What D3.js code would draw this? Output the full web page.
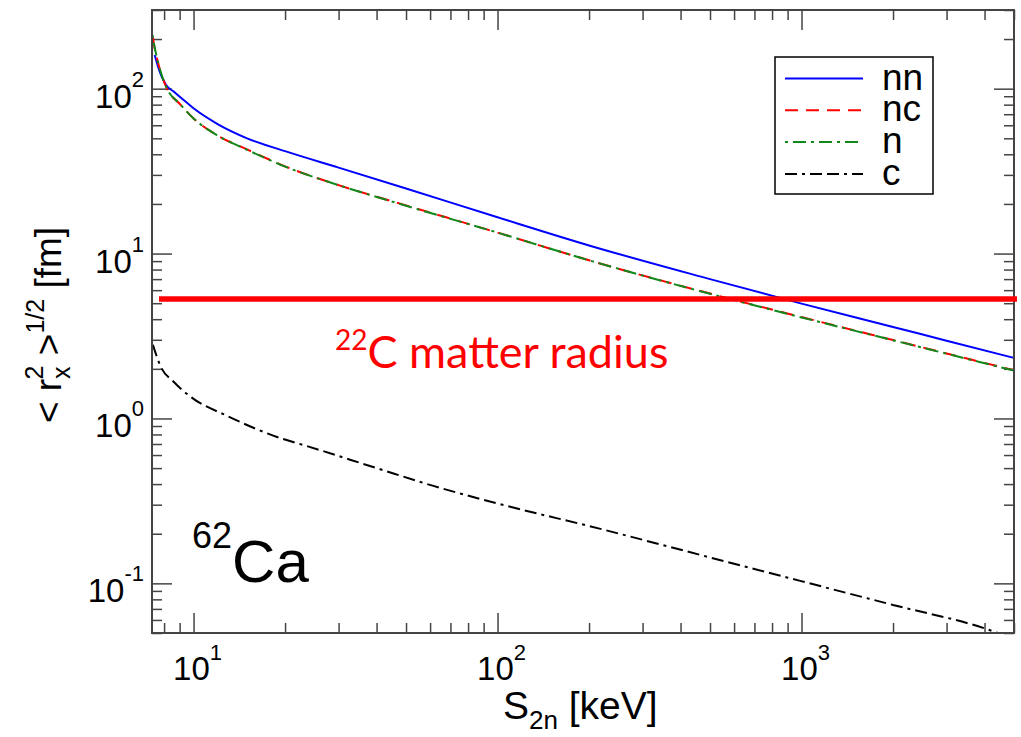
<!DOCTYPE html>
<html>
<head>
<meta charset="utf-8">
<script src="https://cdn.jsdelivr.net/npm/d3@7"></script>
<style>
body { margin: 0; background: #fff; }
text { font-family: "Liberation Sans", Arial, sans-serif; }
</style>
</head>
<body>
<svg id="chart" width="1021" height="737"></svg>
<script>
// values (S2n in keV, rms radius in fm)
var sNN = [7.45, 7.7, 8.1, 8.6, 9.3, 10, 12, 15, 20, 30, 50, 100, 200, 500, 1000, 2000, 3000, 5000];
var rNN = [160, 130, 106, 96, 85, 76, 61, 50, 41.8, 33.2, 24.8, 16.6, 11.2, 7.0, 4.97, 3.59, 2.96, 2.33];

var sNC = [7.35, 7.4, 7.6, 8.0, 8.2, 9, 10, 12, 15, 20, 30, 50, 100, 200, 500, 1000, 2000, 3000, 5000];
var rNC = [205, 188, 150, 110, 99, 81, 66, 52, 42.8, 33.8, 26, 19.6, 13.4, 9.1, 5.72, 4.12, 2.99, 2.48, 1.96];

var sN = [7.33, 7.4, 7.6, 8.0, 8.2, 9, 10, 12, 15, 20, 30, 50, 100, 200, 500, 1000, 2000, 3000, 5000];
var rN = [212, 190, 151, 110, 99, 81, 66, 52, 42.6, 33.7, 26, 19.5, 13.4, 9.1, 5.7, 4.1, 2.98, 2.47, 1.95];

var sC = [7.35, 7.8, 8.6, 9.75, 13, 19.3, 23.6, 40, 61.5, 100, 218, 500, 990, 2000, 4070, 4500];
var rC = [2.8, 2.06, 1.67, 1.36, 1.03, 0.76, 0.68, 0.5, 0.39, 0.305, 0.214, 0.1436, 0.1035, 0.074, 0.0528, 0.0495];

var seriesNames = ["nn", "nc", "n", "c"];
var matterRadius = 5.3;   // 22C matter radius, fm

var xMajor = [10, 100, 1000];
var xMajorExp = ["1", "2", "3"];
var yMajor = [0.1, 1, 10, 100];
var yMajorExp = ["-1", "0", "1", "2"];

// layout (plot frame)
var frameL = 152, frameR = 1014, frameT = 10, frameB = 633;
var svg = d3.select("#chart");

var x = d3.scaleLog().domain([7.3, 5000]).range([frameL, frameR]);
var y = d3.scaleLog().domain([0.05, 300]).range([frameB, frameT]);

// minor ticks: every 1..9 * decade within domain
function minors(scale, majors) {
    var d = scale.domain(), out = [];
    for (var e = -3; e <= 4; e++) {
        for (var m = 1; m < 10; m++) {
            var v = +(m * Math.pow(10, e)).toPrecision(6);
            if (v >= d[0] && v <= d[1] && majors.indexOf(v) < 0) out.push(v);
        }
    }
    return out;
}
var xMinor = minors(x, xMajor);
var yMinor = minors(y, yMajor);

var axisColor = "#444";

function tickAxis(axis, values, size, transform) {
    var g = svg.append("g")
        .attr("transform", transform)
        .call(axis.tickValues(values).tickSize(size).tickSizeOuter(0).tickFormat(""));
    g.select(".domain").remove();
    g.selectAll("line").attr("stroke", axisColor).attr("stroke-width", 1.5);
}
// ticks inside the frame, all four sides
tickAxis(d3.axisBottom(x), xMinor, -10, "translate(0," + frameB + ")");
tickAxis(d3.axisBottom(x), xMajor, -20, "translate(0," + frameB + ")");
tickAxis(d3.axisTop(x), xMinor, -10, "translate(0," + frameT + ")");
tickAxis(d3.axisTop(x), xMajor, -20, "translate(0," + frameT + ")");
tickAxis(d3.axisLeft(y), yMinor, -10, "translate(" + frameL + ",0)");
tickAxis(d3.axisLeft(y), yMajor, -20, "translate(" + frameL + ",0)");
tickAxis(d3.axisRight(y), yMinor, -10, "translate(" + frameR + ",0)");
tickAxis(d3.axisRight(y), yMajor, -20, "translate(" + frameR + ",0)");

// tick labels as 10 with superscript
xMajor.forEach(function(v, i) {
    var t = svg.append("text")
        .attr("x", x(v) + 4)
        .attr("y", 680)
        .attr("text-anchor", "middle")
        .attr("font-size", 33)
        .attr("fill", "#000");
    t.append("tspan").text("10");
    t.append("tspan").attr("font-size", 22).attr("dy", -20).text(xMajorExp[i]);
});
yMajor.forEach(function(v, i) {
    var t = svg.append("text")
        .attr("x", 144)
        .attr("y", y(v) + 19)
        .attr("text-anchor", "end")
        .attr("font-size", 33)
        .attr("fill", "#000");
    t.append("tspan").text("10");
    t.append("tspan").attr("font-size", 22).attr("dy", -21).text(yMajorExp[i]);
});

// axis titles
var xt = svg.append("text")
    .attr("x", 503)
    .attr("y", 719)
    .attr("font-size", 39)
    .attr("fill", "#000");
xt.append("tspan").text("S");
xt.append("tspan").attr("font-size", 26).attr("dy", 10).text("2n");
xt.append("tspan").attr("dy", -10).text(" [keV]");

var yt = svg.append("text")
    .attr("transform", "translate(61,325) rotate(-90)")
    .attr("text-anchor", "middle")
    .attr("font-size", 37)
    .attr("fill", "#000");
yt.append("tspan").text("< r");
yt.append("tspan").attr("font-size", 25).attr("dy", 9).text("x");
yt.append("tspan").attr("font-size", 25).attr("dx", -13).attr("dy", -27).text("2");
yt.append("tspan").attr("dy", 18).text(" >");
yt.append("tspan").attr("font-size", 25).attr("dy", -17).text("1/2");
yt.append("tspan").attr("dy", 17).text(" [fm]");

// curves
svg.append("clipPath").attr("id", "plotClip")
    .append("rect")
    .attr("x", frameL).attr("y", frameT)
    .attr("width", frameR - frameL).attr("height", frameB - frameT);

var series = [
    { name: seriesNames[0], s: sNN, r: rNN, color: "#0000ff", dash: null },
    { name: seriesNames[1], s: sNC, r: rNC, color: "#ff0000", dash: "13,8" },
    { name: seriesNames[2], s: sN, r: rN, color: "#11881a", dash: "3,5,13,5" },
    { name: seriesNames[3], s: sC, r: rC, color: "#000000", dash: "12,5,3,5,12,5" }
];

var line = d3.line()
    .x(function(d) { return x(d[0]); })
    .y(function(d) { return y(d[1]); })
    .curve(d3.curveMonotoneX);

svg.append("g").attr("clip-path", "url(#plotClip)")
    .selectAll("path")
    .data(series)
    .join("path")
    .attr("d", function(d) { return line(d3.zip(d.s, d.r)); })
    .attr("fill", "none")
    .attr("stroke", function(d) { return d.color; })
    .attr("stroke-width", 2)
    .attr("stroke-dasharray", function(d) { return d.dash; });

// frame
svg.append("rect")
    .attr("x", frameL).attr("y", frameT)
    .attr("width", frameR - frameL).attr("height", frameB - frameT)
    .attr("fill", "none")
    .attr("stroke", axisColor)
    .attr("stroke-width", 2);

// legend
var lg = svg.append("g");
lg.append("rect")
    .attr("x", 775).attr("y", 57)
    .attr("width", 158).attr("height", 137)
    .attr("fill", "#fff")
    .attr("stroke", "#000")
    .attr("stroke-width", 1.5);
var rows = lg.selectAll("g.row")
    .data(series)
    .join("g")
    .attr("class", "row")
    .attr("transform", function(d, i) { return "translate(0," + (78.5 + i * 31.8) + ")"; });
rows.append("line")
    .attr("x1", 785).attr("x2", 863)
    .attr("stroke", function(d) { return d.color; })
    .attr("stroke-width", 2)
    .attr("stroke-dasharray", function(d) { return d.dash; });
rows.append("text")
    .attr("x", 882)
    .attr("y", 11)
    .attr("font-size", 37)
    .attr("fill", "#000")
    .text(function(d) { return d.name; });

// 22C matter radius annotation
svg.append("line")
    .attr("x1", 159).attr("x2", 1017)
    .attr("y1", y(matterRadius)).attr("y2", y(matterRadius))
    .attr("stroke", "#ff0000")
    .attr("stroke-width", 5.5);
var mr = svg.append("text")
    .attr("x", 335)
    .attr("y", 368)
    .attr("fill", "#ff0000")
    .attr("font-size", 45)
    .style("font-family", "Lato, 'Open Sans', sans-serif");
mr.append("tspan").attr("font-size", 28).attr("dy", -18).text("22");
mr.append("tspan").attr("dy", 18).text("C matter radius");

// nucleus label
var ca = svg.append("text")
    .attr("x", 192)
    .attr("y", 582)
    .attr("fill", "#000")
    .attr("font-size", 60);
ca.append("tspan").attr("font-size", 36).attr("dy", -34).text("62");
ca.append("tspan").attr("dy", 34).text("Ca");
</script>
</body>
</html>
